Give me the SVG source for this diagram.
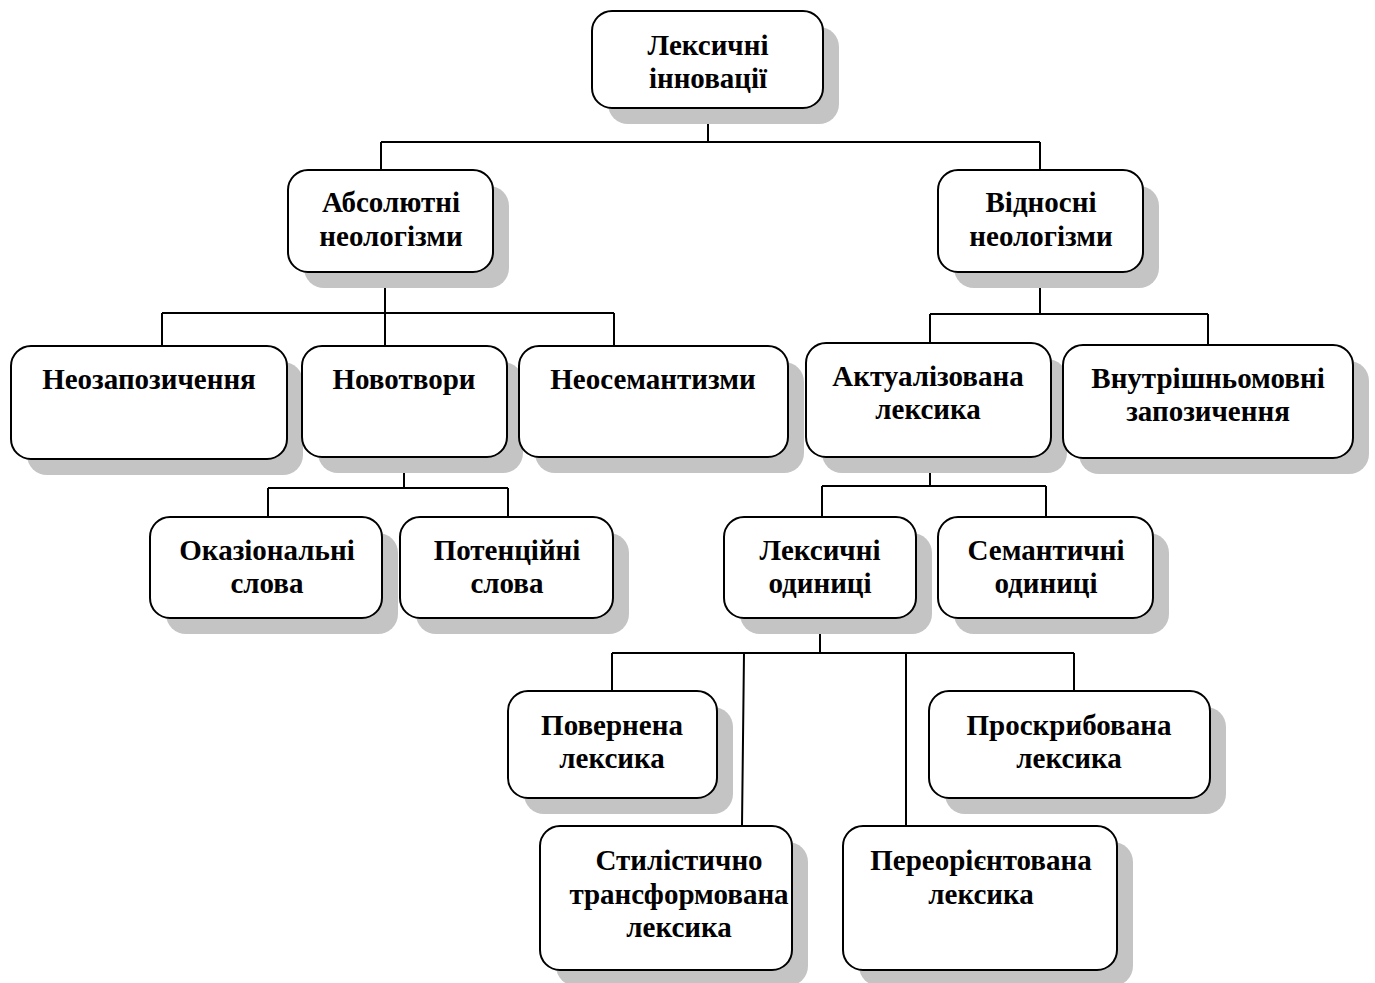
<svg xmlns="http://www.w3.org/2000/svg" width="1375" height="983" viewBox="0 0 1375 983">
<style>
.sh{fill:#c4c4c4;stroke:none}
.bx{fill:#fff;stroke:#000;stroke-width:2}
.t{font-family:"Liberation Serif","Times New Roman",serif;font-weight:bold;font-size:29px;fill:#000;text-anchor:middle}
.c{fill:none;stroke:#000;stroke-width:2}
</style>
<rect width="1375" height="983" fill="#fff"/>
<g id="connectors">
<path class="c" d="M708 108V142M381 142H1040M381 142V170M1040 142V170"/>
<path class="c" d="M385 272V313M162 313H614M162 313V346M385 313V346M614 313V346"/>
<path class="c" d="M1040 272V314M930 314H1208M930 314V343M1208 314V345"/>
<path class="c" d="M404 457V488M268 488H508M268 488V517M508 488V517"/>
<path class="c" d="M930 457V486M822 486H1046M822 486V517M1046 486V517"/>
<path class="c" d="M820 618V653M612 653H1074M612 653V691M744 653L742 826M906 653V826M1074 653V691"/>
</g>
<g id="n1"><rect class="sh" x="608" y="27" width="231" height="97" rx="20"/><rect class="bx" x="592" y="11" width="231" height="97" rx="20"/><text class="t" x="708" y="55">Лексичні</text><text class="t" x="708" y="88">інновації</text></g>
<g id="n2"><rect class="sh" x="304" y="186" width="205" height="102" rx="20"/><rect class="bx" x="288" y="170" width="205" height="102" rx="20"/><text class="t" x="391" y="212">Абсолютні</text><text class="t" x="391" y="246">неологізми</text></g>
<g id="n3"><rect class="sh" x="954" y="186" width="205" height="102" rx="20"/><rect class="bx" x="938" y="170" width="205" height="102" rx="20"/><text class="t" x="1041" y="212">Відносні</text><text class="t" x="1041" y="246">неологізми</text></g>
<g id="n4"><rect class="sh" x="27" y="362" width="276" height="113" rx="20"/><rect class="bx" x="11" y="346" width="276" height="113" rx="20"/><text class="t" x="149" y="389">Неозапозичення</text></g>
<g id="n5"><rect class="sh" x="318" y="362" width="205" height="111" rx="20"/><rect class="bx" x="302" y="346" width="205" height="111" rx="20"/><text class="t" x="404" y="389">Новотвори</text></g>
<g id="n6"><rect class="sh" x="535" y="362" width="269" height="111" rx="20"/><rect class="bx" x="519" y="346" width="269" height="111" rx="20"/><text class="t" x="653" y="389">Неосемантизми</text></g>
<g id="n7"><rect class="sh" x="822" y="359" width="245" height="114" rx="20"/><rect class="bx" x="806" y="343" width="245" height="114" rx="20"/><text class="t" x="928" y="386">Актуалізована</text><text class="t" x="928" y="419">лексика</text></g>
<g id="n8"><rect class="sh" x="1079" y="361" width="290" height="113" rx="20"/><rect class="bx" x="1063" y="345" width="290" height="113" rx="20"/><text class="t" x="1208" y="388">Внутрішньомовні</text><text class="t" x="1208" y="421">запозичення</text></g>
<g id="n9"><rect class="sh" x="166" y="533" width="232" height="101" rx="20"/><rect class="bx" x="150" y="517" width="232" height="101" rx="20"/><text class="t" x="267" y="560">Оказіональні</text><text class="t" x="267" y="593">слова</text></g>
<g id="n10"><rect class="sh" x="416" y="533" width="213" height="101" rx="20"/><rect class="bx" x="400" y="517" width="213" height="101" rx="20"/><text class="t" x="507" y="560">Потенційні</text><text class="t" x="507" y="593">слова</text></g>
<g id="n11"><rect class="sh" x="740" y="533" width="192" height="101" rx="20"/><rect class="bx" x="724" y="517" width="192" height="101" rx="20"/><text class="t" x="820" y="560">Лексичні</text><text class="t" x="820" y="593">одиниці</text></g>
<g id="n12"><rect class="sh" x="954" y="533" width="215" height="101" rx="20"/><rect class="bx" x="938" y="517" width="215" height="101" rx="20"/><text class="t" x="1046" y="560">Семантичні</text><text class="t" x="1046" y="593">одиниці</text></g>
<g id="n13"><rect class="sh" x="524" y="707" width="209" height="107" rx="20"/><rect class="bx" x="508" y="691" width="209" height="107" rx="20"/><text class="t" x="612" y="735">Повернена</text><text class="t" x="612" y="768">лексика</text></g>
<g id="n14"><rect class="sh" x="945" y="707" width="281" height="107" rx="20"/><rect class="bx" x="929" y="691" width="281" height="107" rx="20"/><text class="t" x="1069" y="735">Проскрибована</text><text class="t" x="1069" y="768">лексика</text></g>
<g id="n15"><rect class="sh" x="556" y="842" width="252" height="144" rx="20"/><rect class="bx" x="540" y="826" width="252" height="144" rx="20"/><text class="t" x="679" y="870">Стилістично</text><text class="t" x="679" y="904">трансформована</text><text class="t" x="679" y="937">лексика</text></g>
<g id="n16"><rect class="sh" x="859" y="842" width="274" height="144" rx="20"/><rect class="bx" x="843" y="826" width="274" height="144" rx="20"/><text class="t" x="981" y="870">Переорієнтована</text><text class="t" x="981" y="904">лексика</text></g>
</svg>
